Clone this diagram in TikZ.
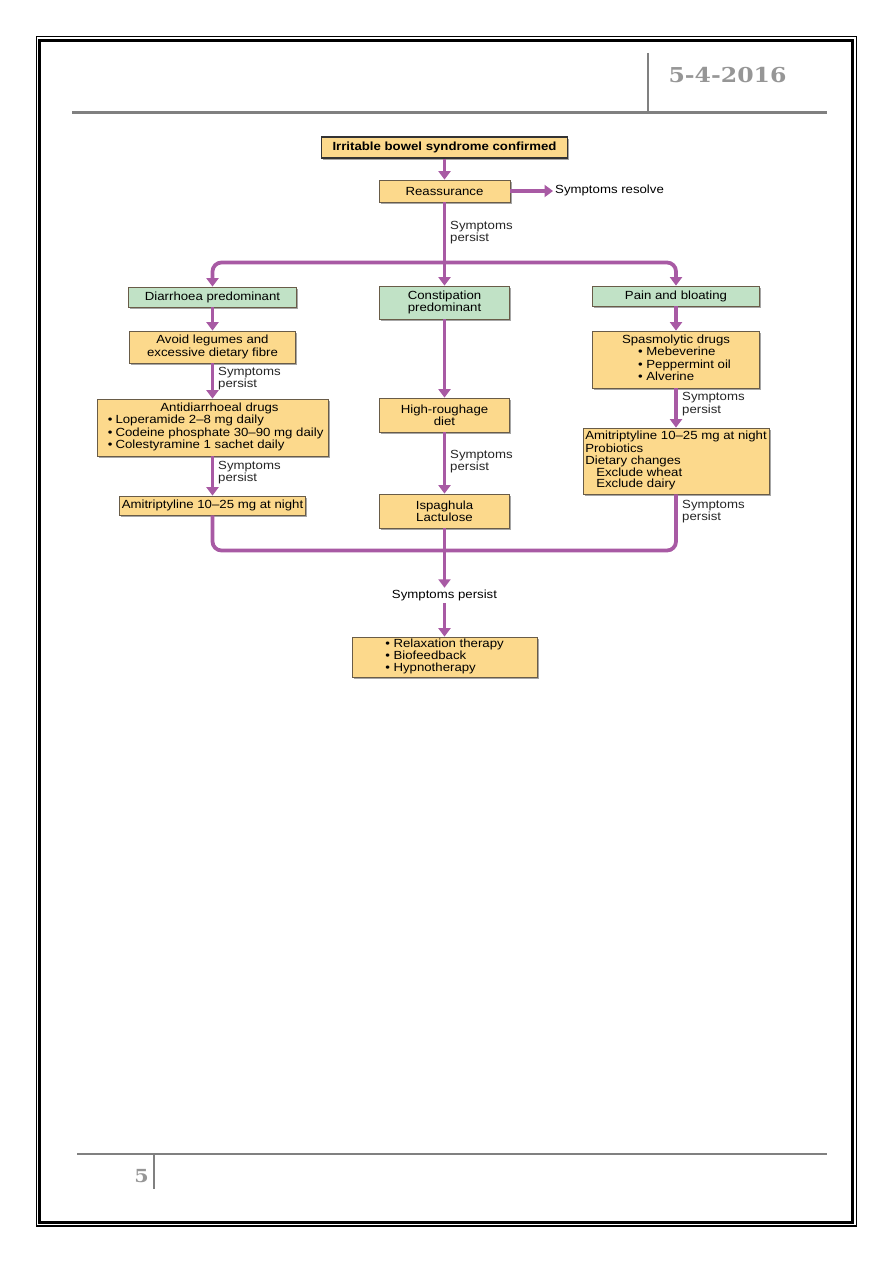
\documentclass[tikz,border=0pt]{standalone}
\usepackage{fontspec}
\setmainfont{Liberation Sans}[FakeStretch=1.12]
\newfontfamily\datefont{DejaVu Serif}[FakeStretch=1.15]
\usetikzlibrary{arrows.meta,shadows,calc}
\definecolor{purp}{RGB}{168,90,164}
\definecolor{yfill}{RGB}{252,217,140}
\definecolor{gfill}{RGB}{193,226,198}
\definecolor{bordc}{RGB}{105,92,72}
\definecolor{pagegray}{RGB}{128,128,128}
\definecolor{dategray}{RGB}{150,150,150}
\begin{document}
\begin{tikzpicture}[x=1pt,y=-1pt,
  font=\fontsize{11.8}{12.3}\selectfont,
  boxbase/.style={draw=bordc,line width=0.8pt,inner sep=0pt,align=center,
    drop shadow={shadow xshift=1.8pt,shadow yshift=-1.8pt,opacity=0.35,fill=black}},
  ybox/.style={boxbase,fill=yfill},
  gbox/.style={boxbase,fill=gfill},
  plainline/.style={draw=purp,line width=3.8pt},
  flow/.style={plainline,-{Triangle[width=12pt,length=8.5pt]}},
  lbl/.style={anchor=west,inner sep=0pt,align=left,text=black!85},
  pageline/.style={draw=pagegray,line width=2.5pt}
]
\useasboundingbox (0,0) rectangle (893,1263);
\fill[white] (0,0) rectangle (893,1263);
% page frame
\draw[line width=1.2pt] (36.2,36.7) rectangle (856.3,1226);
\draw[line width=2.8pt] (39.7,40.2) rectangle (852.3,1222.7);
% header
\draw[pageline] (72,112.3) -- (827,112.3);
\draw[pageline] (648,53) -- (648,112.3);
\node[font=\datefont\bfseries\fontsize{20.5}{22}\selectfont,text=dategray] (date) at (727.5,75.5) {5-4-2016};
% footer
\draw[pageline] (77,1154) -- (827,1154);
\draw[pageline] (154,1154) -- (154,1189);
\node[font=\datefont\bfseries\fontsize{18}{20}\selectfont,text=dategray] (pnum) at (141.5,1176) {5};

% boxes
\node[ybox,draw=black!80,line width=1.6pt,minimum width=246pt,minimum height=21pt,font=\bfseries\fontsize{11.8}{12.3}\selectfont] (title) at (444.5,147.3) {Irritable bowel syndrome confirmed};
\node[ybox,minimum width=131pt,minimum height=22pt] (reas) at (444.5,191) {Reassurance};
\node[anchor=west,inner sep=2pt] (resolve) at (553,190.5) {Symptoms resolve};

\node[gbox,minimum width=168pt,minimum height=20pt] (diar) at (212.5,297) {Diarrhoea predominant};
\node[gbox,minimum width=130pt,minimum height=33pt] (cons) at (444.5,302.5) {Constipation\\predominant};
\node[gbox,minimum width=167pt,minimum height=20pt] (pain) at (676,296) {Pain and bloating};

\node[ybox,minimum width=166pt,minimum height=32pt] (avoid) at (212.5,347) {Avoid legumes and\\excessive dietary fibre};
\node[ybox,minimum width=231pt,minimum height=57pt] (anti) at (212.5,427.5) {\begin{tabular}{@{\hspace{14pt}}l@{}}\multicolumn{1}{@{\hspace{14pt}}c@{}}{Antidiarrhoeal drugs}\\
\llap{•\hspace{3pt}}Loperamide 2–8 mg daily\\
\llap{•\hspace{3pt}}Codeine phosphate 30–90 mg daily\\
\llap{•\hspace{3pt}}Colestyramine 1 sachet daily\end{tabular}};
\node[ybox,minimum width=186pt,minimum height=19pt] (amiL) at (212.5,505.5) {Amitriptyline 10–25 mg at night};

\node[ybox,minimum width=130pt,minimum height=34pt] (high) at (444.5,415) {High-roughage\\diet};
\node[ybox,minimum width=130pt,minimum height=34pt] (isp) at (444.5,511) {Ispaghula\\Lactulose};

\node[ybox,minimum width=167pt,minimum height=57pt] (spas) at (676,359.5) {\begin{tabular}{@{}l@{}}\multicolumn{1}{@{}c@{}}{Spasmolytic drugs}\\
\hspace*{17pt}• Mebeverine\\
\hspace*{17pt}• Peppermint oil\\
\hspace*{17pt}• Alverine\end{tabular}};
\node[ybox,minimum width=186pt,minimum height=66pt] (amiR) at (676,461) {\begin{tabular}{@{}l@{}}Amitriptyline 10–25 mg at night\\[0.6pt]
Probiotics\\[0.4pt]
Dietary changes\\[-1pt]
\hspace*{11pt}Exclude wheat\\[-0.5pt]
\hspace*{11pt}Exclude dairy\end{tabular}};

\node[inner sep=0pt,minimum height=11pt] (sp) at (444.5,595.5) {Symptoms persist};
\node[ybox,minimum width=185pt,minimum height=40pt] (final) at (444.5,657) {\begin{tabular}{@{}l@{}}• Relaxation therapy\\• Biofeedback\\• Hypnotherapy\end{tabular}};

% labels
\node[lbl] (lab0) at (450,232.5) {Symptoms\\persist};
\node[lbl] (lab1) at (218,378.5) {Symptoms\\persist};
\node[lbl] (lab2) at (218,472.5) {Symptoms\\persist};
\node[lbl] (lab3) at (450,461.5) {Symptoms\\persist};
\node[lbl] (lab4) at (682,404) {Symptoms\\persist};
\node[lbl] (lab5) at (682,511.5) {Symptoms\\persist};

% connectors
\coordinate (tj) at (444.5,262.5);
\coordinate (bj) at (444.5,550.5);
\draw[flow] (title.south) -- (reas.north);
\draw[flow] (reas.east) -- (reas.east -| resolve.west);
\draw[plainline] (reas.south) -- (tj);
\draw[flow] (tj) -- (cons.north);
\draw[flow,rounded corners=9pt] (tj) -| (diar.north);
\draw[flow,rounded corners=9pt] (tj) -| (pain.north);

\draw[flow] (diar.south) -- (avoid.north);
\draw[flow] (avoid.south) -- (anti.north);
\draw[flow] (anti.south) -- (amiL.north);

\draw[flow] (cons.south) -- (high.north);
\draw[flow] (high.south) -- (isp.north);

\draw[flow] (pain.south) -- (spas.north);
\draw[flow] (spas.south) -- (amiR.north);

\draw[plainline,rounded corners=9pt] (amiL.south) |- (bj);
\draw[plainline,rounded corners=9pt] (amiR.south) |- (bj);
\draw[plainline] (isp.south) -- (bj);
\draw[flow] (bj) -- ($(sp.north)+(0,-2)$);
\draw[flow] ($(sp.south)+(0,2)$) -- (final.north);
\end{tikzpicture}
\end{document}
